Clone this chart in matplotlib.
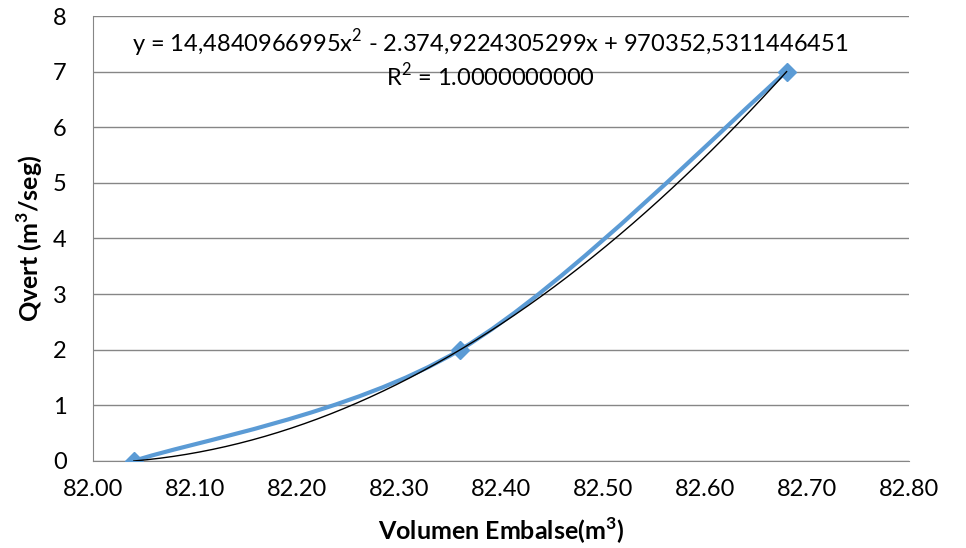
import numpy as np
import matplotlib.pyplot as plt
from matplotlib.path import Path
from matplotlib.patches import PathPatch

# storage vs spillway discharge
volumen = [82.04, 82.36, 82.68]
qvert = [0, 2, 7]

x_ticks = [82.00, 82.10, 82.20, 82.30, 82.40, 82.50, 82.60, 82.70, 82.80]
y_ticks = [0, 1, 2, 3, 4, 5, 6, 7, 8]

ecuacion = r"y = 14,4840966995x$^\mathrm{2}$ - 2.374,9224305299x + 970352,5311446451"
r2_texto = r"R$^\mathrm{2}$ = 1.0000000000"

plt.rcParams['font.family'] = ['Lato', 'DejaVu Sans']
plt.rcParams['mathtext.fontset'] = 'custom'
plt.rcParams['mathtext.rm'] = 'Lato'
plt.rcParams['mathtext.bf'] = 'Lato:bold'
azul = '#5B9BD5'
gris = '#868686'

fig = plt.figure(figsize=(9.66, 5.48), dpi=100)
ax = fig.add_axes([0.0963, 0.1588, 0.8447, 0.812])

# smoothed line (bezier through the points, like a spreadsheet "smooth line")
px = np.array(volumen, dtype=float)
py = np.array(qvert, dtype=float)
verts = [(px[0], py[0])]
codes = [Path.MOVETO]
n = len(px)
for i in range(n - 1):
    p0 = i - 1 if i > 0 else 0
    p3 = i + 2 if i + 2 < n else n - 1
    c1 = (px[i] + (px[i + 1] - px[p0]) / 6, py[i] + (py[i + 1] - py[p0]) / 6)
    c2 = (px[i + 1] - (px[p3] - px[i]) / 6, py[i + 1] - (py[p3] - py[i]) / 6)
    verts += [c1, c2, (px[i + 1], py[i + 1])]
    codes += [Path.CURVE4] * 3
ax.add_patch(PathPatch(Path(verts, codes), facecolor='none', edgecolor=azul,
                       lw=3, capstyle='round', zorder=3))
ax.plot(volumen, qvert, linestyle='none', marker='D', markersize=9,
        color=azul, zorder=4)

# polynomial trendline (order 2)
coef = np.polyfit(volumen, qvert, 2)
xt = np.linspace(volumen[0], volumen[-1], 200)
ax.plot(xt, np.polyval(coef, xt), color='black', lw=1, zorder=5)

ax.set_xlim(82.00, 82.80)
ax.set_ylim(0, 8)
ax.set_xticks(x_ticks)
ax.set_xticklabels(['%.2f' % v for v in x_ticks])
ax.set_yticks(y_ticks)
ax.tick_params(axis='both', length=0, labelsize=17)
ax.tick_params(axis='y', pad=19)
ax.tick_params(axis='x', pad=13)
ax.grid(axis='y', color=gris, lw=1)
ax.set_axisbelow(True)
for s in ['top', 'right']:
    ax.spines[s].set_visible(False)
for s in ['left', 'bottom']:
    ax.spines[s].set_color(gris)

ax.set_xlabel(r"Volumen Embalse(m$^\mathbf{3}$)", fontsize=18, fontweight='bold')
ax.set_ylabel(r"Qvert (m$^\mathbf{3}$/seg)", fontsize=18, fontweight='bold')
ax.xaxis.set_label_coords(0.5, -0.122)
ax.yaxis.set_label_coords(-0.059, 0.5)

ax.text(0.487, 0.94, ecuacion, transform=ax.transAxes, ha='center',
        va='center', fontsize=17)
ax.text(0.487, 0.865, r2_texto, transform=ax.transAxes, ha='center',
        va='center', fontsize=17)

fig.savefig('out.png', dpi=100)
